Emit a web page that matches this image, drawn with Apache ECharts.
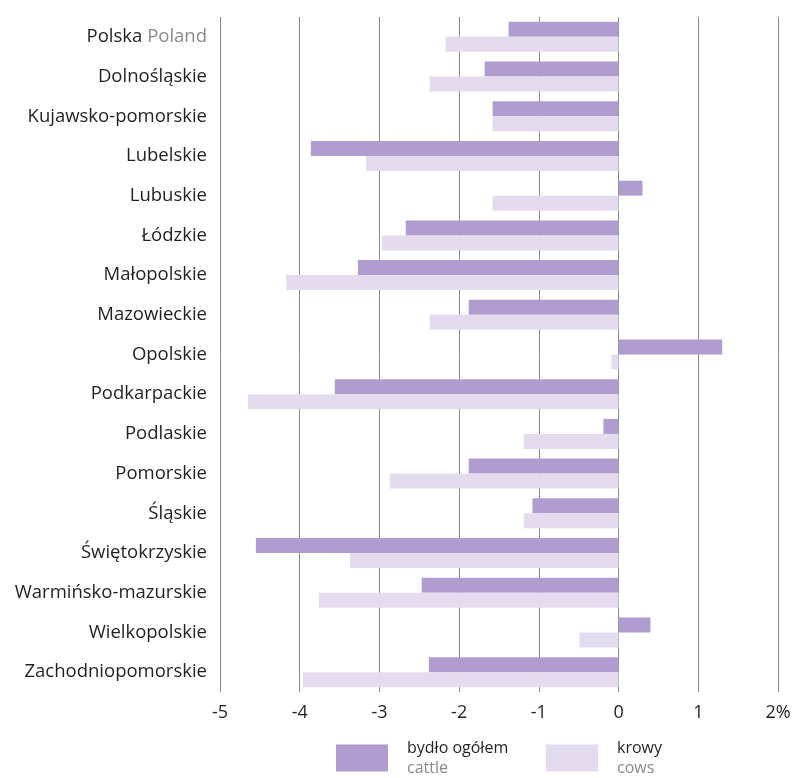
<!DOCTYPE html>
<html>
<head>
<meta charset="utf-8">
<script src="https://cdn.jsdelivr.net/npm/echarts@6/dist/echarts.min.js"></script>
<style>
  html, body { margin: 0; padding: 0; background: #fff; }
  #chart { width: 799px; height: 778px; }
</style>
</head>
<body>
<div id="chart"></div>
<script>
// regions (voivodeships), top to bottom
const regions = [
  "Polska", "Dolnośląskie", "Kujawsko-pomorskie", "Lubelskie", "Lubuskie",
  "Łódzkie", "Małopolskie", "Mazowieckie", "Opolskie", "Podkarpackie",
  "Podlaskie", "Pomorskie", "Śląskie", "Świętokrzyskie", "Warmińsko-mazurskie",
  "Wielkopolskie", "Zachodniopomorskie"
];
// % change, cattle total
const cattle = [-1.38, -1.68, -1.58, -3.86, 0.30, -2.67, -3.27, -1.88, 1.30, -3.56,
  -0.19, -1.88, -1.08, -4.55, -2.47, 0.40, -2.38];
// % change, cows
const cows = [-2.17, -2.37, -1.58, -3.17, -1.58, -2.97, -4.17, -2.37, -0.09, -4.65,
  -1.19, -2.87, -1.19, -3.37, -3.76, -0.49, -3.96];

const chart = echarts.init(document.getElementById("chart"));
const font = "'Open Sans', 'Noto Sans', sans-serif";

const legendText = {
  padding: [0, 0, 0, 14],
  rich: {
    a: { fontSize: 16, color: "#231f20", fontFamily: font, lineHeight: 20 },
    b: { fontSize: 16, color: "#8a8a8a", fontFamily: font, lineHeight: 20 }
  }
};

chart.setOption({
  animation: false,
  textStyle: { fontFamily: font },
  grid: { left: 220, right: 21, top: 17, bottom: 86 },
  legend: [
    {
      bottom: -3, left: 331, itemWidth: 52, itemHeight: 27, icon: "rect",
      data: ["cattle"],
      formatter: () => "{a|bydło ogółem}\n{b|cattle}",
      textStyle: legendText
    },
    {
      bottom: -3, left: 541, itemWidth: 52, itemHeight: 27, icon: "rect",
      data: ["cows"],
      formatter: () => "{a|krowy}\n{b|cows}",
      textStyle: legendText
    }
  ],
  xAxis: {
    type: "value",
    min: -5,
    max: 2,
    interval: 1,
    axisLine: { show: false },
    axisTick: { show: false },
    splitLine: { show: true, lineStyle: { color: "#8a8a8a", width: 1 } },
    axisLabel: {
      margin: 12,
      fontSize: 18,
      color: "#231f20",
      fontFamily: font,
      formatter: v => (v === 2 ? "2%" : String(v))
    }
  },
  yAxis: {
    type: "category",
    inverse: true,
    data: regions,
    axisLine: { show: false },
    axisTick: { show: false },
    axisLabel: {
      margin: 13,
      fontSize: 18.5,
      color: "#231f20",
      fontFamily: font,
      formatter: v => (v === "Polska" ? "Polska {g|Poland}" : v),
      rich: { g: { fontSize: 18.5, color: "#8a8a8a", fontFamily: font } }
    }
  },
  series: [
    {
      name: "cattle",
      type: "bar",
      data: cattle,
      barWidth: 15,
      barGap: "0%",
      itemStyle: { color: "#b09ccf" }
    },
    {
      name: "cows",
      type: "bar",
      data: cows,
      barWidth: 15,
      barGap: "0%",
      itemStyle: { color: "#e4dcee" }
    }
  ]
});
</script>
</body>
</html>
